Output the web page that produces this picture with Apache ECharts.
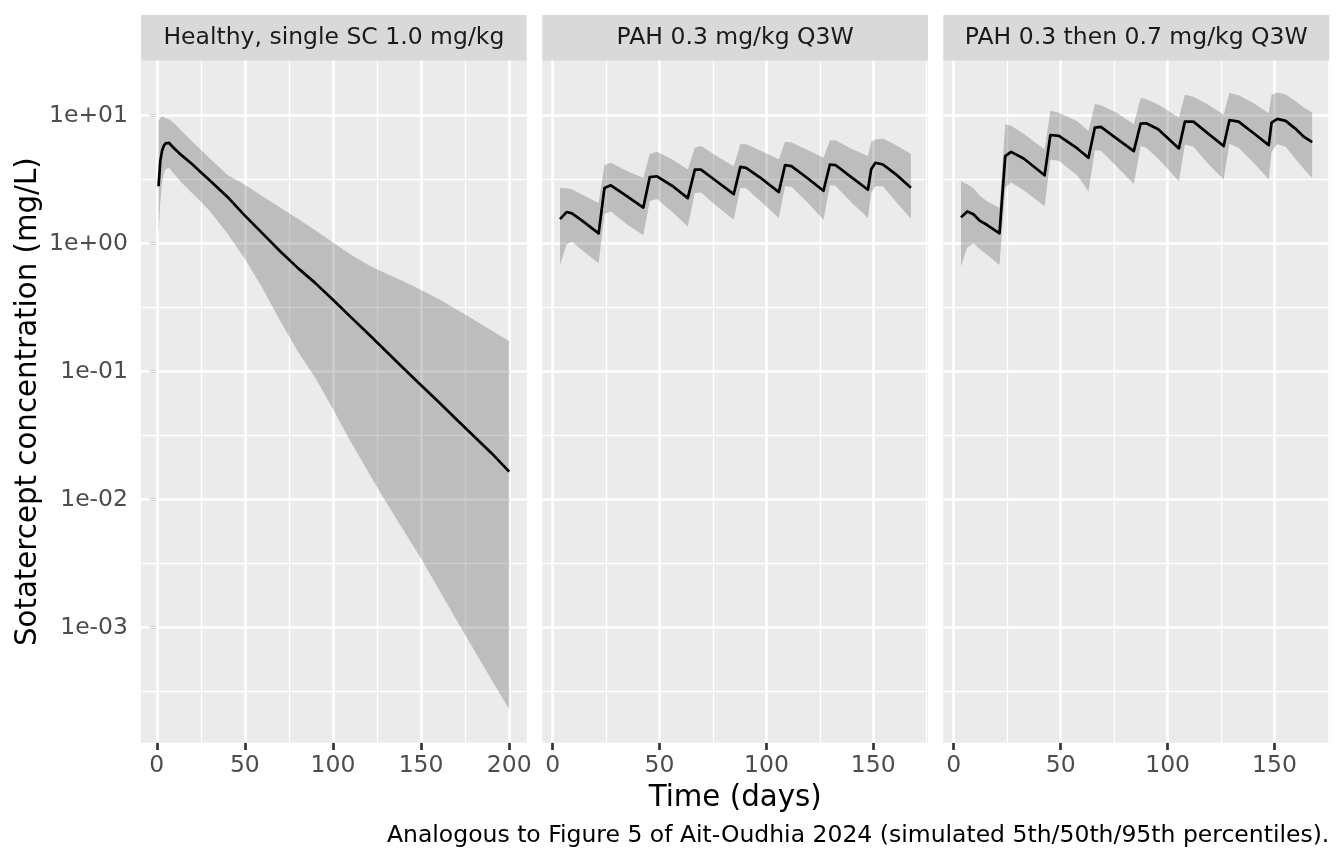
<!DOCTYPE html>
<html>
<head>
<meta charset="utf-8">
<script src="https://cdn.jsdelivr.net/npm/echarts@6/dist/echarts.min.js"></script>
<style>
html,body{margin:0;padding:0;background:#ffffff;}
#chart{width:1344px;height:864px;}
</style>
</head>
<body>
<div id="chart"></div>
<script>
// ---------------- DATA ----------------
const panelTitles = ["Healthy, single SC 1.0 mg/kg", "PAH 0.3 mg/kg Q3W", "PAH 0.3 then 0.7 mg/kg Q3W"];
const xTitle = "Time (days)";
const yTitle = "Sotatercept concentration (mg/L)";
const caption = "Analogous to Figure 5 of Ait-Oudhia 2024 (simulated 5th/50th/95th percentiles).";

const xTicks1 = [0, 50, 100, 150, 200];
const xTicks23 = [0, 50, 100, 150];
const xMinor = [25, 75, 125, 175];
const yTicks = [0.001, 0.01, 0.1, 1, 10];
const yMinor = [3.1623e-4, 3.1623e-3, 3.1623e-2, 0.31623, 3.1623];

// Panel 1: healthy, single SC dose
const time1 = [1, 2, 3, 4, 5, 7, 9, 11, 14, 20, 25, 30, 40, 50, 60, 70, 80, 90, 100, 110, 120, 130, 140, 150, 160, 170, 180, 190, 200];
const median1 = [2.8, 4.4, 5.3, 5.8, 6.05, 6.1, 5.7, 5.35, 4.9, 4.18, 3.6, 3.12, 2.32, 1.65, 1.2, 0.87, 0.645, 0.49, 0.363, 0.267, 0.197, 0.1445, 0.106, 0.078, 0.0577, 0.0424, 0.0312, 0.023, 0.0165];
const upper1 = [9.0, 9.6, 9.8, 9.7, 9.5, 9.3, 8.9, 8.4, 7.6, 6.3, 5.4, 4.64, 3.45, 2.87, 2.34, 1.91, 1.56, 1.27, 1.02, 0.82, 0.68, 0.583, 0.506, 0.433, 0.369, 0.307, 0.254, 0.209, 0.172];
const lower1 = [1.16, 2.1, 3.0, 3.55, 3.8, 3.9, 3.6, 3.35, 3.0, 2.48, 2.12, 1.8, 1.2, 0.76, 0.447, 0.249, 0.144, 0.089, 0.051, 0.0284, 0.0164, 0.0096, 0.00575, 0.00346, 0.002, 0.00115, 6.7e-4, 3.9e-4, 2.3e-4];

// Panel 2: PAH 0.3 mg/kg Q3W
const time2 = [3.4, 6.5, 9.0, 13.9, 21.5, 24.2, 27.2, 34.5, 42.4, 45.4, 48.8, 56.2, 63.2, 66.5, 69.4, 76.8, 84.7, 87.8, 90.5, 98.4, 105.8, 108.7, 111.7, 119.1, 126.7, 129.7, 132.3, 139.7, 147.5, 149.0, 151.0, 154.5, 160.3, 167.6];
const median2 = [1.55, 1.76, 1.72, 1.5, 1.2, 2.71, 2.85, 2.35, 1.91, 3.3, 3.35, 2.8, 2.26, 3.78, 3.78, 3.05, 2.43, 3.97, 3.9, 3.15, 2.52, 4.09, 4.02, 3.25, 2.58, 4.14, 4.1, 3.3, 2.63, 3.8, 4.27, 4.14, 3.5, 2.72];
const upper2 = [2.71, 2.7, 2.65, 2.4, 2.07, 4.1, 4.27, 3.7, 3.25, 5.0, 5.2, 4.5, 3.78, 5.6, 5.77, 4.8, 4.02, 5.95, 5.95, 5.2, 4.53, 6.24, 6.15, 5.4, 4.67, 6.39, 6.4, 5.5, 4.82, 6.2, 6.5, 6.6, 5.9, 5.0];
const lower2 = [0.68, 0.98, 1.03, 0.88, 0.7, 1.7, 1.78, 1.42, 1.16, 2.15, 2.23, 1.75, 1.36, 2.48, 2.5, 1.95, 1.53, 2.71, 2.7, 2.05, 1.58, 2.8, 2.78, 2.1, 1.53, 2.85, 2.83, 2.1, 1.58, 2.5, 2.8, 2.8, 2.15, 1.56];

// Panel 3: PAH 0.3 then 0.7 mg/kg Q3W
const time3 = [3.4, 6.3, 9.2, 12.3, 15.5, 21.4, 24.1, 26.8, 32.7, 42.5, 45.2, 49.2, 57.8, 63.0, 66.0, 68.8, 76.2, 84.2, 87.4, 90.0, 95.6, 105.3, 108.1, 112.1, 118.4, 126.2, 128.9, 133.2, 140.1, 147.3, 148.6, 151.3, 155.2, 159.7, 163.8, 167.6];
const median3 = [1.6, 1.78, 1.69, 1.5, 1.4, 1.2, 4.82, 5.2, 4.61, 3.41, 7.04, 6.92, 5.53, 4.67, 8.05, 8.15, 6.6, 5.27, 8.65, 8.7, 7.8, 5.53, 8.96, 8.96, 7.35, 5.77, 9.19, 8.96, 7.3, 5.87, 8.8, 9.4, 9.07, 7.9, 6.8, 6.2];
const upper3 = [3.06, 2.9, 2.7, 2.35, 2.15, 1.89, 8.53, 8.3, 7.2, 5.43, 10.9, 10.5, 9.0, 7.57, 12.3, 12.0, 10.5, 8.53, 13.7, 13.4, 12.2, 9.65, 14.5, 14.0, 12.3, 10.2, 15.0, 14.4, 12.5, 10.4, 14.5, 15.1, 14.6, 13.0, 11.5, 10.5];
const lower3 = [0.66, 0.93, 1.0, 0.9, 0.82, 0.68, 2.71, 3.0, 2.6, 1.95, 4.53, 4.4, 3.4, 2.55, 5.34, 5.3, 4.0, 2.92, 5.77, 5.6, 4.6, 3.06, 5.94, 5.7, 4.3, 3.16, 6.02, 5.6, 4.3, 3.16, 5.2, 6.0, 5.7, 4.6, 3.8, 3.25];

// ---------------- LAYOUT / STYLE ----------------
const FONT = "'DejaVu Sans', 'Noto Sans', sans-serif";
const panels = [
  {left: 141.0, width: 385.7, xMin: -8.95, xMax: 209.95, xTicks: xTicks1, t: time1, med: median1, lo: lower1, hi: upper1},
  {left: 542.3, width: 385.7, xMin: -4.87, xMax: 175.6, xTicks: xTicks23, t: time2, med: median2, lo: lower2, hi: upper2},
  {left: 943.3, width: 386.0, xMin: -4.87, xMax: 175.6, xTicks: xTicks23, t: time3, med: median3, lo: lower3, hi: upper3}
];
const TOP = 60.7, HEIGHT = 682.0;
const Y_MIN = 1.2589e-4, Y_MAX = 26.79;
const STRIP_TOP = 15.0;

function expLabel(v) {
  const e = Math.round(Math.log10(v));
  const s = e < 0 ? '-' : '+';
  const a = Math.abs(e);
  return '1e' + s + (a < 10 ? '0' + a : '' + a);
}

function ribbonRenderer(T, lo, hi) {
  return function (params, api) {
    const pts = [];
    for (let i = 0; i < T.length; i++) pts.push(api.coord([T[i], hi[i]]));
    for (let i = T.length - 1; i >= 0; i--) pts.push(api.coord([T[i], lo[i]]));
    return {
      type: 'polygon',
      shape: {points: pts},
      style: {fill: 'rgba(51,51,51,0.25)', stroke: null}
    };
  };
}

const majorLine = {color: '#ffffff', width: 2.7, type: 'solid', opacity: 1};
const minorLine = {color: '#ffffff', width: 1.35, type: 'solid', opacity: 1};

function gridMarks(p) {
  const d = [];
  yMinor.forEach(v => d.push({yAxis: v, lineStyle: minorLine}));
  xMinor.filter(v => v > p.xMin && v < p.xMax).forEach(v => d.push({xAxis: v, lineStyle: minorLine}));
  yTicks.forEach(v => d.push({yAxis: v, lineStyle: majorLine}));
  p.xTicks.forEach(v => d.push({xAxis: v, lineStyle: majorLine}));
  return d;
}

const grids = [], xAxes = [], yAxes = [], series = [], graphics = [];

panels.forEach((p, i) => {
  grids.push({
    left: p.left, top: TOP, width: p.width, height: HEIGHT,
    show: true, backgroundColor: '#EBEBEB', borderWidth: 0, containLabel: false
  });
  xAxes.push({
    type: 'value', gridIndex: i, min: p.xMin, max: p.xMax, splitNumber: 4,
    axisLine: {show: false},
    axisTick: {show: true, customValues: p.xTicks, length: 7.3, lineStyle: {color: '#333333', width: 2.7}},
    axisLabel: {show: true, customValues: p.xTicks, color: '#4D4D4D', fontSize: 23.5, fontFamily: FONT, margin: 11,
      showMinLabel: true, showMaxLabel: true, hideOverlap: false},
    splitLine: {show: false}
  });
  yAxes.push({
    type: 'log', logBase: 10, gridIndex: i, min: Y_MIN, max: Y_MAX,
    show: i === 0,
    axisLine: {show: false},
    axisTick: {show: i === 0, customValues: yTicks, length: 7.3, lineStyle: {color: '#333333', width: 2.7}},
    axisLabel: {show: i === 0, customValues: yTicks, color: '#4D4D4D', fontSize: 23.5, fontFamily: FONT, margin: 13,
      formatter: expLabel, hideOverlap: false},
    splitLine: {show: false},
    minorTick: {show: false},
    minorSplitLine: {show: false}
  });
  series.push({
    type: 'custom',
    name: 'ribbon' + i,
    xAxisIndex: i, yAxisIndex: i,
    data: [[p.t[0], p.lo[0]]],
    encode: {x: 0, y: 1},
    renderItem: ribbonRenderer(p.t, p.lo, p.hi),
    clip: true,
    silent: true,
    z: 2,
    animation: false,
    markLine: {
      silent: true, symbol: ['none', 'none'], label: {show: false}, z: 1, animation: false,
      precision: 12,
      emphasis: {disabled: true},
      data: gridMarks(p)
    }
  });
  series.push({
    type: 'line',
    name: 'median' + i,
    xAxisIndex: i, yAxisIndex: i,
    data: p.t.map((t, k) => [t, p.med[k]]),
    showSymbol: false, symbol: 'none',
    lineStyle: {color: '#000000', width: 2.7, join: 'round', cap: 'butt'},
    z: 3, silent: true, animation: false
  });
  // facet strip
  graphics.push({
    type: 'rect', silent: true,
    shape: {x: p.left, y: STRIP_TOP, width: p.width, height: TOP - STRIP_TOP},
    style: {fill: '#D9D9D9'}
  });
  graphics.push({
    type: 'text', silent: true,
    x: p.left + p.width / 2, y: (STRIP_TOP + TOP) / 2,
    style: {text: panelTitles[i], fill: '#1A1A1A', fontSize: 23.5, fontFamily: FONT, align: 'center', verticalAlign: 'middle'}
  });
});

graphics.push({
  type: 'text', silent: true, x: 735.2, y: 798,
  style: {text: xTitle, fill: '#000000', fontSize: 29.3, fontFamily: FONT, align: 'center', verticalAlign: 'middle'}
});
graphics.push({
  type: 'text', silent: true, x: 28, y: TOP + HEIGHT / 2, rotation: Math.PI / 2,
  style: {text: yTitle, fill: '#000000', fontSize: 29.3, fontFamily: FONT, align: 'center', verticalAlign: 'middle'}
});
graphics.push({
  type: 'text', silent: true, x: 1329.3, y: 836,
  style: {text: caption, fill: '#000000', fontSize: 23.5, fontFamily: FONT, align: 'right', verticalAlign: 'middle'}
});

const chart = echarts.init(document.getElementById('chart'), null, {renderer: 'canvas', width: 1344, height: 864});
chart.setOption({
  backgroundColor: '#ffffff',
  animation: false,
  grid: grids,
  xAxis: xAxes,
  yAxis: yAxes,
  series: series,
  graphic: graphics
});
</script>
</body>
</html>
